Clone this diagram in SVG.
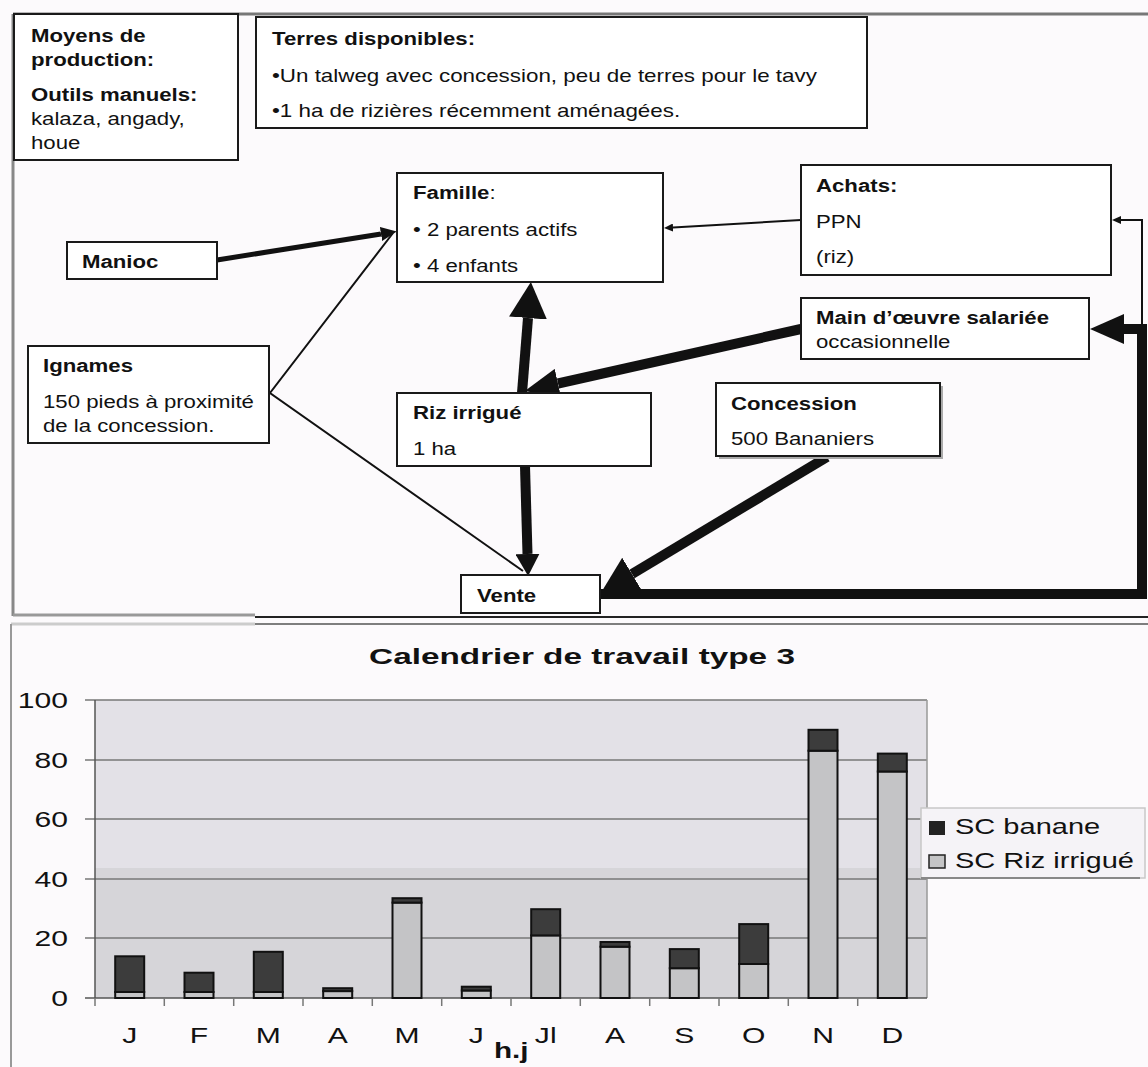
<svg xmlns="http://www.w3.org/2000/svg" width="1148" height="1067" viewBox="0 0 1148 1067">
<style>
.bx{fill:#fff;stroke:#1a1a1a;stroke-width:2}
.t{font-family:"Liberation Sans",Arial,sans-serif;font-size:18.5px;fill:#111}
.b{font-family:"Liberation Sans",Arial,sans-serif;font-size:18.5px;font-weight:bold;fill:#111}
.ct{font-family:"Liberation Sans",Arial,sans-serif;font-size:21.5px;fill:#111}
.cb{font-family:"Liberation Sans",Arial,sans-serif;font-size:21.5px;font-weight:bold;fill:#111}
.thick{fill:none;stroke:#111;stroke-width:10}
.thin{fill:none;stroke:#111;stroke-width:2}
.grid{stroke:#777;stroke-width:1.5}
.ban{fill:#3c3c3c;stroke:#111;stroke-width:2}
.riz{fill:#c4c4c6;stroke:#111;stroke-width:2}
</style>
<defs>
<marker id="hL" markerUnits="userSpaceOnUse" markerWidth="36" markerHeight="38" refX="0" refY="19" orient="auto"><path d="M0,0 L36,19 L0,38 z" fill="#111"/></marker>
<marker id="hM" markerUnits="userSpaceOnUse" markerWidth="34" markerHeight="30" refX="0" refY="15" orient="auto"><path d="M0,0 L34,15 L0,30 z" fill="#111"/></marker>
<marker id="hS" markerUnits="userSpaceOnUse" markerWidth="22" markerHeight="24" refX="0" refY="12" orient="auto"><path d="M0,0 L22,12 L0,24 z" fill="#111"/></marker>
<marker id="hX" markerUnits="userSpaceOnUse" markerWidth="16" markerHeight="14" refX="0" refY="7" orient="auto"><path d="M0,0 L16,7 L0,14 z" fill="#111"/></marker>
<marker id="hT" markerUnits="userSpaceOnUse" markerWidth="9" markerHeight="8" refX="0" refY="4" orient="auto"><path d="M0,0 L9,4 L0,8 z" fill="#111"/></marker>
</defs>
<rect x="0" y="0" width="1148" height="1067" fill="#fcfafc"/>

<!-- frames -->
<g id="frames" fill="none">
<line x1="13" y1="14" x2="1148" y2="14" stroke="#777" stroke-width="3"/>
<line x1="13" y1="14" x2="13" y2="616" stroke="#888" stroke-width="3"/>
<line x1="13" y1="615" x2="255" y2="615" stroke="#999" stroke-width="3"/>
<line x1="255" y1="617" x2="1148" y2="617" stroke="#222" stroke-width="2"/>
<line x1="11" y1="624" x2="255" y2="624" stroke="#ccc" stroke-width="3"/>
<line x1="255" y1="624" x2="1148" y2="624" stroke="#555" stroke-width="1.5"/>
<line x1="11" y1="624" x2="11" y2="1067" stroke="#999" stroke-width="2"/>
</g>

<!-- connectors -->
<g id="connectors">
<path class="thin" d="M393,233 L270,393 L523,571"/>
<path fill="none" stroke="#111" stroke-width="5" d="M217,260 L381,234" marker-end="url(#hX)"/>
<path class="thin" d="M801,220 L673,227.5" marker-end="url(#hT)"/>
<path class="thin" d="M1142,329 V220 H1121" marker-end="url(#hT)"/>
<path class="thick" d="M522,393 L528,318" marker-end="url(#hL)"/>
<path class="thick" d="M801,329 L558,383.5" marker-end="url(#hM)"/>
<path class="thick" stroke-width="8" d="M525,466 L527.5,554" marker-end="url(#hS)"/>
<path class="thick" d="M827,457 L632,574" marker-end="url(#hL)"/>
<path class="thick" stroke-width="9" d="M600,594 H1142 V329 H1124" marker-end="url(#hM)"/>
</g>

<!-- nodes -->
<g id="n-moyens">
<rect class="bx" x="14" y="14" width="224" height="146"/>
<text class="b" transform="translate(31,42) scale(1.2,1)">Moyens de</text>
<text class="b" transform="translate(31,66) scale(1.2,1)">production:</text>
<text class="b" transform="translate(31,101) scale(1.2,1)">Outils manuels:</text>
<text class="t" transform="translate(31,125) scale(1.2,1)">kalaza, angady,</text>
<text class="t" transform="translate(31,149) scale(1.2,1)">houe</text>
</g>
<g id="n-terres">
<rect class="bx" x="256" y="17" width="611" height="111"/>
<text class="b" transform="translate(272,45) scale(1.2,1)">Terres disponibles:</text>
<text class="t" transform="translate(272,82) scale(1.21,1)">•Un talweg avec concession, peu de terres pour le tavy</text>
<text class="t" transform="translate(272,117) scale(1.21,1)">•1 ha de rizières récemment aménagées.</text>
</g>
<g id="n-famille">
<rect class="bx" x="397" y="173" width="266" height="109"/>
<text class="t" transform="translate(413,199) scale(1.2,1)"><tspan font-weight="bold">Famille</tspan>:</text>
<text class="t" transform="translate(413,236) scale(1.2,1)">• 2 parents actifs</text>
<text class="t" transform="translate(413,272) scale(1.2,1)">• 4 enfants</text>
</g>
<g id="n-achats">
<rect class="bx" x="801" y="165" width="310" height="110"/>
<text class="b" transform="translate(816,192) scale(1.2,1)">Achats:</text>
<text class="t" transform="translate(816,228) scale(1.2,1)">PPN</text>
<text class="t" transform="translate(816,263) scale(1.2,1)">(riz)</text>
</g>
<g id="n-main">
<rect class="bx" x="801" y="298" width="288" height="61"/>
<text class="b" transform="translate(816,324) scale(1.2,1)">Main d’œuvre salariée</text>
<text class="t" transform="translate(816,348) scale(1.2,1)">occasionnelle</text>
</g>
<g id="n-manioc">
<rect class="bx" x="67" y="242" width="150" height="37"/>
<text class="b" transform="translate(82,268) scale(1.2,1)">Manioc</text>
</g>
<g id="n-ignames">
<rect class="bx" x="28" y="346" width="241" height="97"/>
<text class="b" transform="translate(43,372) scale(1.2,1)">Ignames</text>
<text class="t" transform="translate(43,408) scale(1.2,1)">150 pieds à proximité</text>
<text class="t" transform="translate(43,432) scale(1.2,1)">de la concession.</text>
</g>
<g id="n-riz">
<rect class="bx" x="397" y="393" width="254" height="73"/>
<text class="b" transform="translate(413,419) scale(1.2,1)">Riz irrigué</text>
<text class="t" transform="translate(413,455) scale(1.2,1)">1 ha</text>
</g>
<g id="n-concession">
<path d="M942,386 V458 H719" fill="none" stroke="#aaa" stroke-width="2"/>
<rect class="bx" x="716" y="383" width="224" height="73"/>
<text class="b" transform="translate(731,410) scale(1.2,1)">Concession</text>
<text class="t" transform="translate(731,445) scale(1.2,1)">500 Bananiers</text>
</g>
<g id="n-vente">
<rect class="bx" x="461" y="575" width="139" height="38"/>
<text class="b" transform="translate(477,602) scale(1.2,1)">Vente</text>
</g>

<!-- chart -->
<g id="chart">
<text class="cb" font-size="25" text-anchor="middle" transform="translate(582,664) scale(1.55,1)">Calendrier de travail type 3</text>
<rect x="95" y="700" width="832" height="168" fill="#e3e1e7"/>
<rect x="95" y="868" width="832" height="130" fill="#d6d5d9"/>
<g class="grid">
<line x1="85" y1="700" x2="927" y2="700"/>
<line x1="85" y1="760" x2="927" y2="760"/>
<line x1="85" y1="819" x2="927" y2="819"/>
<line x1="85" y1="879" x2="927" y2="879"/>
<line x1="85" y1="938" x2="927" y2="938"/>
</g>
<line x1="927" y1="700" x2="927" y2="998" stroke="#999" stroke-width="1.5"/>
<line x1="95" y1="700" x2="95" y2="998" stroke="#555" stroke-width="1.5"/>
<line x1="85" y1="998" x2="927" y2="998" stroke="#555" stroke-width="1.5"/>
<g stroke="#777" stroke-width="1.5">
<line x1="95" y1="998" x2="95" y2="1006"/><line x1="164.3" y1="998" x2="164.3" y2="1006"/><line x1="233.7" y1="998" x2="233.7" y2="1006"/><line x1="303" y1="998" x2="303" y2="1006"/><line x1="372.3" y1="998" x2="372.3" y2="1006"/><line x1="441.7" y1="998" x2="441.7" y2="1006"/><line x1="511" y1="998" x2="511" y2="1006"/><line x1="580.3" y1="998" x2="580.3" y2="1006"/><line x1="649.7" y1="998" x2="649.7" y2="1006"/><line x1="719" y1="998" x2="719" y2="1006"/><line x1="788.3" y1="998" x2="788.3" y2="1006"/><line x1="857.7" y1="998" x2="857.7" y2="1006"/>
</g>
<g text-anchor="end">
<text class="ct" transform="translate(68,708) scale(1.4,1)">100</text>
<text class="ct" transform="translate(68,768) scale(1.4,1)">80</text>
<text class="ct" transform="translate(68,827) scale(1.4,1)">60</text>
<text class="ct" transform="translate(68,887) scale(1.4,1)">40</text>
<text class="ct" transform="translate(68,946) scale(1.4,1)">20</text>
<text class="ct" transform="translate(68,1006) scale(1.4,1)">0</text>
</g>
<g id="bars">
<rect class="riz" x="115.2" y="992" width="29" height="6"/><rect class="ban" x="115.2" y="956.3" width="29" height="35.7"/>
<rect class="riz" x="184.5" y="992" width="29" height="6"/><rect class="ban" x="184.5" y="972.7" width="29" height="19.3"/>
<rect class="riz" x="253.8" y="992" width="29" height="6"/><rect class="ban" x="253.8" y="951.8" width="29" height="40.2"/>
<rect class="riz" x="323.2" y="991.1" width="29" height="6.9"/><rect class="ban" x="323.2" y="988.2" width="29" height="2.9"/>
<rect class="riz" x="392.5" y="902.6" width="29" height="95.4"/><rect class="ban" x="392.5" y="898.2" width="29" height="4.4"/>
<rect class="riz" x="461.8" y="990.5" width="29" height="7.5"/><rect class="ban" x="461.8" y="986.7" width="29" height="3.8"/>
<rect class="riz" x="531.2" y="935.4" width="29" height="62.6"/><rect class="ban" x="531.2" y="909.2" width="29" height="26.2"/>
<rect class="riz" x="600.5" y="946.7" width="29" height="51.3"/><rect class="ban" x="600.5" y="942" width="29" height="4.7"/>
<rect class="riz" x="669.8" y="968.2" width="29" height="29.8"/><rect class="ban" x="669.8" y="949.1" width="29" height="19.1"/>
<rect class="riz" x="739.2" y="964" width="29" height="34"/><rect class="ban" x="739.2" y="924.1" width="29" height="39.9"/>
<rect class="riz" x="808.5" y="750.7" width="29" height="247.3"/><rect class="ban" x="808.5" y="729.8" width="29" height="20.9"/>
<rect class="riz" x="877.8" y="771.5" width="29" height="226.5"/><rect class="ban" x="877.8" y="753.6" width="29" height="17.9"/>
</g>
<g text-anchor="middle">
<text class="ct" transform="translate(129.7,1043) scale(1.4,1)">J</text>
<text class="ct" transform="translate(199,1043) scale(1.4,1)">F</text>
<text class="ct" transform="translate(268.3,1043) scale(1.4,1)">M</text>
<text class="ct" transform="translate(337.7,1043) scale(1.4,1)">A</text>
<text class="ct" transform="translate(407,1043) scale(1.4,1)">M</text>
<text class="ct" transform="translate(476.3,1043) scale(1.4,1)">J</text>
<text class="ct" transform="translate(545.7,1043) scale(1.4,1)">Jl</text>
<text class="ct" transform="translate(615,1043) scale(1.4,1)">A</text>
<text class="ct" transform="translate(684.3,1043) scale(1.4,1)">S</text>
<text class="ct" transform="translate(753.7,1043) scale(1.4,1)">O</text>
<text class="ct" transform="translate(823,1043) scale(1.4,1)">N</text>
<text class="ct" transform="translate(892.3,1043) scale(1.4,1)">D</text>
</g>
<text class="cb" transform="translate(494,1058) scale(1.38,1)">h.j</text>
<g id="legend">
<rect x="921" y="808" width="224" height="70" fill="#f5f3f7" stroke="#c8c8c8" stroke-width="1.5"/>
<line x1="921" y1="878" x2="1140" y2="878" stroke="#888" stroke-width="2"/>
<rect x="929" y="821" width="16" height="14" fill="#222"/>
<rect x="929" y="855" width="16" height="13" fill="#c4c4c6" stroke="#222" stroke-width="1.5"/>
<text class="ct" font-size="20" transform="translate(955,834) scale(1.35,1)">SC banane</text>
<text class="ct" font-size="20" transform="translate(955,868) scale(1.35,1)">SC Riz irrigué</text>
</g>
</g>
</svg>
